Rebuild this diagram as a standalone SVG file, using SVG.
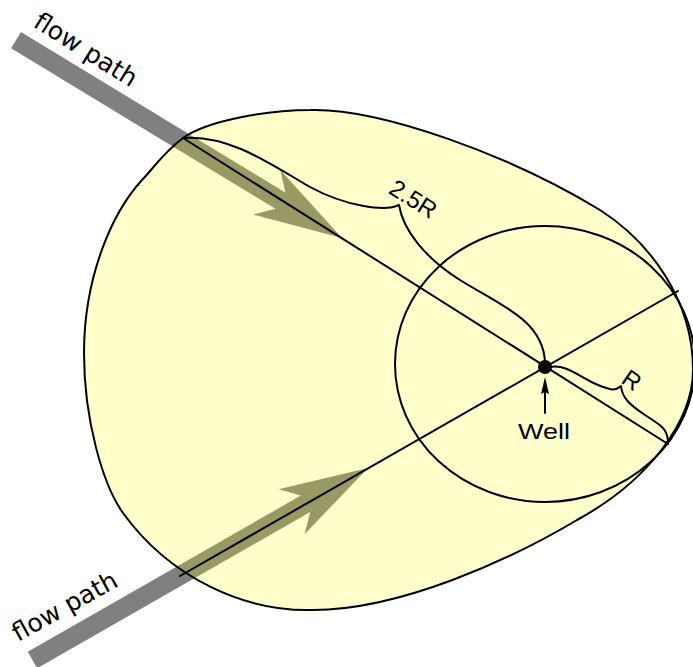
<svg xmlns="http://www.w3.org/2000/svg" width="693" height="667" viewBox="0 0 693 667">
<style>
.band{fill:#808080;stroke:none}
.ln{fill:none;stroke:#000;stroke-width:2;stroke-linejoin:round;stroke-linecap:round}
.fp{font-family:"DejaVu Sans",sans-serif;font-size:25px;fill:#000}
.lb{font-family:"Liberation Sans",Arial,sans-serif;fill:#000}
</style>
<rect width="693" height="667" fill="#fff"/>
<g id="flow-path-top">
<path class="band" transform="translate(342,238) rotate(31.27)" d="M0,0 L-88,-26 L-72,-9.5 L-381.4,-9.5 L-381.4,9.5 L-72,9.5 L-88,26 Z"/>
<text class="fp" transform="translate(32,26) rotate(32)">flow path</text>
</g>
<g id="flow-path-bottom">
<path class="band" transform="translate(368,468) rotate(-29.78)" d="M0,0 L-88,-26 L-72,-9.5 L-386.6,-9.5 L-386.6,9.5 L-72,9.5 L-88,26 Z"/>
<text class="fp" transform="translate(18,642) rotate(-29)">flow path</text>
</g>
<g id="capture-zone">
<path d="M183,138 C208,120 270,110 310,110 C380,108 510,155 600,210 C650,242 693,300 693,370 C693,420 650,480 577,520 C510,560 400,610 313,610 C245,612 170,578 123,513 C103,485 84,420 84,353 C84,280 110,215 142,180 C152,170 163,153 183,138 Z" fill="#ffff00" fill-opacity="0.2" stroke="#000" stroke-width="2"/>
</g>
<g id="radius-circle">
<ellipse cx="545" cy="364" rx="150" ry="138" fill="none" stroke="#000" stroke-width="2"/>
</g>
<g id="connectors">
<line class="ln" x1="183" y1="138" x2="668" y2="444"/>
<line class="ln" x1="180" y1="576" x2="678" y2="291"/>
<path class="ln" d="M183,138 C230,134 275,167 310,187 C345,206 385,212 399,205 C403,230 425,258 460,280 C500,305 543,320 545,362"/>
<path class="ln" d="M550,367 C568,364 580,378 598,385 S615,390 621,386 C622,398 630,405 645,415 S668,428 668,443"/>
<line class="ln" x1="545" y1="413" x2="545" y2="390"/>
<path d="M545,377 L549,394 L545,392 L541,394 Z" fill="#000"/>
</g>
<g id="well">
<circle cx="545" cy="367" r="7" fill="#000"/>
<text class="lb" x="544" y="439" font-size="22" text-anchor="middle" textLength="52" lengthAdjust="spacingAndGlyphs">Well</text>
</g>
<g id="labels">
<text class="lb" font-size="24" text-anchor="middle" transform="translate(409,206) rotate(32)">2.5R</text>
<text class="lb" font-size="24" text-anchor="middle" transform="translate(627,387) rotate(35)">R</text>
</g>
</svg>
